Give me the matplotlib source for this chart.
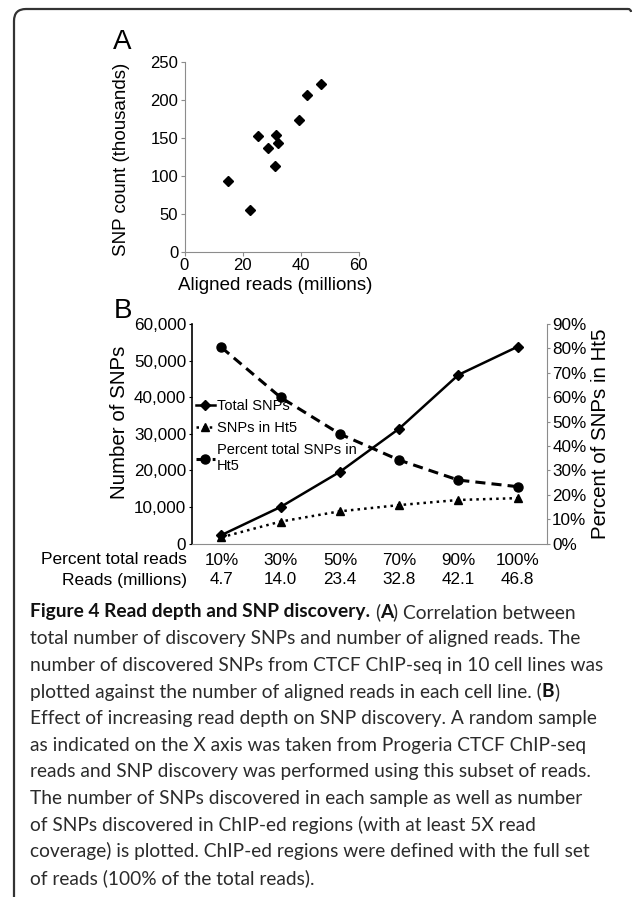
import matplotlib
matplotlib.use('Agg')
import matplotlib.pyplot as plt
from matplotlib.path import Path
from matplotlib.patches import PathPatch

W, H = 633, 897

# panel A: one point per cell line
reads_a = [14.9, 22.6, 25.3, 28.9, 31.7, 32.4, 31.3, 39.6, 42.1, 47.2]
snps_a = [93.8, 54.9, 153.1, 136.7, 154.0, 143.8, 112.8, 173.5, 206.2, 220.8]

# panel B: subsampled reads
pct_reads = ['10%', '30%', '50%', '70%', '90%', '100%']
reads_mil = ['4.7', '14.0', '23.4', '32.8', '42.1', '46.8']
total_snps = [2300, 10000, 19600, 31400, 46100, 53800]
ht5_snps = [1700, 6000, 8800, 10500, 11900, 12400]
pct_ht5 = [80.4, 59.9, 44.9, 34.2, 26.0, 23.3]

caption = [
    [("Figure 4 Read depth and SNP discovery.", True), (" (", False), ("A", True), (") Correlation between", False)],
    [("total number of discovery SNPs and number of aligned reads. The", False)],
    [("number of discovered SNPs from CTCF ChIP-seq in 10 cell lines was", False)],
    [("plotted against the number of aligned reads in each cell line. (", False), ("B", True), (")", False)],
    [("Effect of increasing read depth on SNP discovery. A random sample", False)],
    [("as indicated on the X axis was taken from Progeria CTCF ChIP-seq", False)],
    [("reads and SNP discovery was performed using this subset of reads.", False)],
    [("The number of SNPs discovered in each sample as well as number", False)],
    [("of SNPs discovered in ChIP-ed regions (with at least 5X read", False)],
    [("coverage) is plotted. ChIP-ed regions were defined with the full set", False)],
    [("of reads (100% of the total reads).", False)],
]
# right end of each caption line in the reference (px)
caption_ends = [614, 594, 609, 581, 609, 593, 601, 601, 543, 602, 317]

plt.rcParams['font.family'] = ['Liberation Sans', 'DejaVu Sans']
GRAY = '#8c8c8c'


def px(x, y):
    return x / W, 1 - y / H


def rect(left, top, right, bottom):
    return [left / W, 1 - bottom / H, (right - left) / W, (bottom - top) / H]


fig = plt.figure(figsize=(W / 100, H / 100), dpi=100)

# ---- panel A
axA = fig.add_axes(rect(184.5, 62, 358.5, 252))
axA.plot(reads_a, snps_a, 'D', color='black', ms=5, ls='none')
axA.set_xlim(0, 60)
axA.set_ylim(0, 250)
axA.set_xticks([0, 20, 40, 60])
axA.set_yticks(range(0, 251, 50))
for s in ['top', 'right']:
    axA.spines[s].set_visible(False)
for s in ['left', 'bottom']:
    axA.spines[s].set_color(GRAY)
axA.tick_params(length=3, color=GRAY, labelsize=12, pad=1.5)
fig.text(*px(122.5, 42), 'A', fontsize=20, ha='center', va='center')
fig.text(*px(121, 159), 'SNP count (thousands)', rotation=90, fontsize=13.5, ha='center', va='center')
fig.text(*px(275, 286), 'Aligned reads (millions)', fontsize=13.5, ha='center', va='center')

# ---- panel B
axB = fig.add_axes(rect(191.8, 324, 547.3, 543.5))
x = range(len(pct_reads))
l1, = axB.plot(x, total_snps, '-', marker='D', color='black', lw=1.8, ms=5, label='Total SNPs')
l2, = axB.plot(x, ht5_snps, ':', marker='^', color='black', lw=1.8, ms=6, label='SNPs in Ht5')
axR = axB.twinx()
l3, = axR.plot(x, pct_ht5, '--', marker='o', color='black', lw=2.2, ms=6.5,
               label='Percent total SNPs in\nHt5')
l3.set_dashes((3.3, 2))
axB.set_xlim(-0.5, 5.5)
axB.set_ylim(0, 60000)
axR.set_ylim(0, 90)
axB.set_yticks(range(0, 60001, 10000))
axB.set_yticklabels([f'{v:,}' for v in range(0, 60001, 10000)])
axR.set_yticks(range(0, 91, 10))
axR.set_yticklabels([f'{v}%' for v in range(0, 91, 10)])
axB.set_xticks(list(x))
axB.set_xticklabels([f'{p}\n{r}' for p, r in zip(pct_reads, reads_mil)], linespacing=1.3)
axB.tick_params(axis='x', length=0, pad=7, labelsize=12.3)
axB.tick_params(axis='y', length=2, pad=2, labelsize=12.3)
axR.tick_params(axis='y', length=2, pad=1.5, labelsize=12.3, color=GRAY)
for s in ['top', 'right']:
    axB.spines[s].set_visible(False)
axB.spines['bottom'].set_color(GRAY)
axB.spines['left'].set_linewidth(1.2)
for s in ['top', 'left', 'bottom']:
    axR.spines[s].set_visible(False)
axR.spines['right'].set_color(GRAY)

axR.legend([l1, l2, l3], [l1.get_label(), l2.get_label(), l3.get_label()],
           loc='upper left', bbox_to_anchor=px(196, 399), bbox_transform=fig.transFigure,
           frameon=False, fontsize=10.5, handlelength=1.3, handletextpad=0.12,
           borderpad=0, borderaxespad=0, labelspacing=0.55, numpoints=1)

fig.text(*px(123, 311.5), 'B', fontsize=20, ha='center', va='center')
fig.text(*px(120, 422.5), 'Number of SNPs', rotation=90, fontsize=14.8, ha='center', va='center')
fig.text(*px(600.5, 434), 'Percent of SNPs in Ht5', rotation=90, fontsize=14.8, ha='center', va='center')
fig.text(*px(186.7, 559), 'Percent total reads', fontsize=12.5, ha='right', va='center')
fig.text(*px(186.7, 580), 'Reads (millions)', fontsize=12.5, ha='right', va='center')

# ---- frame
fv = [(14, 897), (14, 21), (14, 9), (26, 9), (628, 9), (631, 9), (631, 12)]
codes = [Path.MOVETO, Path.LINETO, Path.CURVE3, Path.CURVE3, Path.LINETO, Path.CURVE3, Path.CURVE3]
fig.add_artist(PathPatch(Path([px(a, b) for a, b in fv], codes), fill=False, lw=1.6,
                         edgecolor='#333333', transform=fig.transFigure))

# ---- caption
renderer = fig.canvas.get_renderer()
CAP_FONT = ['Lato', 'DejaVu Sans']


def width_of(s, size, bold):
    t = fig.text(0, 0, s, fontsize=size, family=CAP_FONT, fontweight='bold' if bold else 'normal')
    w = t.get_window_extent(renderer).width
    t.remove()
    return w


def draw_line(segs, y, size, draw=True):
    xpos = 30.0
    sp = width_of('a a', size, False) - width_of('aa', size, False)
    for txt, bold in segs:
        if txt.startswith(' '):
            xpos += sp
            txt = txt.lstrip()
        t = fig.text(xpos / W, 1 - y / H, txt, fontsize=size, family=CAP_FONT,
                     fontweight='bold' if bold else 'normal',
                     color='#111111' if bold else '#2b2b2b', ha='left', va='center')
        xpos += t.get_window_extent(renderer).width
        if not draw:
            t.remove()
    return xpos - 30


# one font size for the whole caption, the largest that keeps every line inside its reference width
base = 14.0
fits = [base * (end - 30) / draw_line(segs, 612, base, draw=False)
        for segs, end in zip(caption, caption_ends)]
size = min(fits)
for i, segs in enumerate(caption):
    draw_line(segs, 612 + 26.6 * i, size)

fig.savefig('out.png', dpi=100)
